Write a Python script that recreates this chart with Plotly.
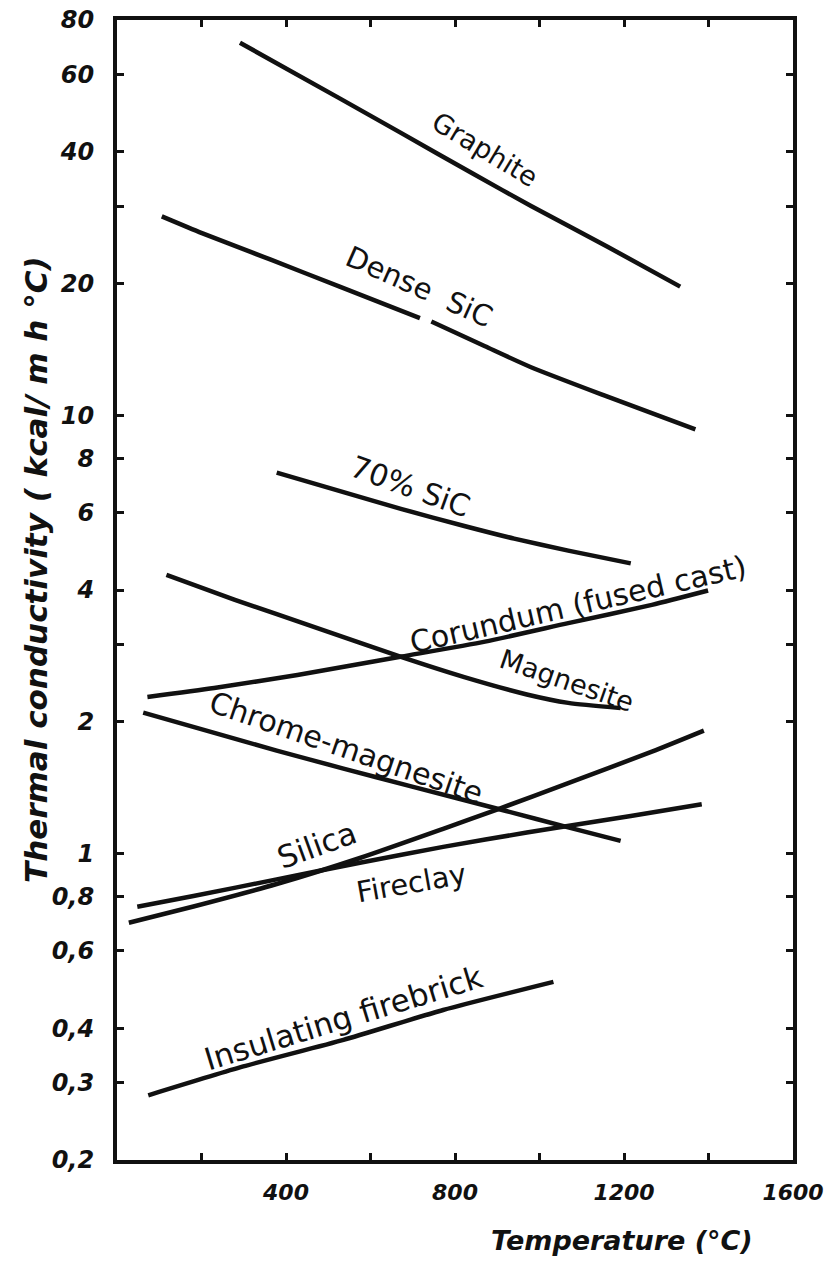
import math
import plotly.graph_objects as go

# ---- data (temperature in °C, conductivity in kcal/m h °C) ----
graphite_T = [291, 527, 672, 844, 980, 1161, 1333]
graphite_k = [71.0, 53.0, 44.2, 35.6, 30.1, 24.3, 19.7]

dense_sic_T = [106, 201, 364, 527, 717, None, 744, 871, 980, 1161, 1369]
dense_sic_k = [28.5, 26.1, 22.7, 19.7, 16.7, None, 16.4, 14.4, 12.9, 11.05, 9.3]

sic70_T = [378, 536, 674, 822, 940, 1068, 1216]
sic70_k = [7.41, 6.69, 6.12, 5.60, 5.24, 4.92, 4.60]

magnesite_T = [117, 279, 476, 674, 822, 970, 1068, 1192]
magnesite_k = [4.33, 3.80, 3.27, 2.81, 2.53, 2.31, 2.21, 2.15]

corundum_T = [72, 230, 427, 674, 871, 1068, 1266, 1399]
corundum_k = [2.28, 2.39, 2.56, 2.82, 3.05, 3.36, 3.70, 3.99]

chrome_T = [62, 220, 378, 536, 694, 921, 1068, 1192]
chrome_k = [2.10, 1.90, 1.72, 1.565, 1.427, 1.252, 1.149, 1.07]

silica_T = [28, 181, 378, 575, 772, 901, 1068, 1266, 1389]
silica_k = [0.696, 0.758, 0.853, 0.978, 1.14, 1.263, 1.45, 1.71, 1.91]

fireclay_T = [48, 181, 378, 575, 772, 970, 1216, 1384]
fireclay_k = [0.757, 0.801, 0.874, 0.954, 1.037, 1.118, 1.22, 1.297]

insul_T = [74, 299, 536, 772, 1033]
insul_k = [0.281, 0.327, 0.376, 0.440, 0.510]

x_tickvals = [200, 400, 600, 800, 1000, 1200, 1400, 1600]
x_ticktext = ["", "400", "", "800", "", "1200", "", "1600"]
y_tickvals = [0.2, 0.3, 0.4, 0.6, 0.8, 1, 2, 3, 4, 6, 8, 10, 20, 30, 40, 60, 80]
y_ticktext = ["0,2", "0,3", "0,4", "0,6", "0,8", "1", "2", "", "4", "6", "8",
              "10", "20", "", "40", "60", "80"]

series = [
    (graphite_T, graphite_k),
    (dense_sic_T, dense_sic_k),
    (sic70_T, sic70_k),
    (magnesite_T, magnesite_k),
    (corundum_T, corundum_k),
    (chrome_T, chrome_k),
    (silica_T, silica_k),
    (fireclay_T, fireclay_k),
    (insul_T, insul_k),
]

# curve labels: text, label position (T, k), rotation, font size
labels = [
    ("Graphite", 871, 40.4, 31, 27),
    ("Dense  SiC", 717, 19.7, 24, 29),
    ("70% SiC", 694, 6.88, 20, 30),
    ("Corundum (fused cast)", 1090, 3.70, -13, 30),
    ("Magnesite", 1065, 2.48, 19, 27),
    ("Chrome-magnesite", 542, 1.75, 19, 30),
    ("Silica", 473, 1.047, -20, 31),
    ("Fireclay", 696, 0.857, -10, 29),
    ("Insulating firebrick", 535, 0.4217, -17, 31),
]

FONT = "DejaVu Sans"
INK = "#111111"
W, H = 824, 1277
L, R, T_, B = 117, 31, 20, 117
PW, PH = W - L - R, H - T_ - B

fig = go.Figure()
for T, k in series:
    fig.add_trace(go.Scatter(
        x=T, y=k, mode="lines",
        line=dict(color=INK, width=4.5, shape="spline", smoothing=0.6),
        connectgaps=False, showlegend=False, hoverinfo="skip"))

for text, T, k, ang, fs in labels:
    fig.add_annotation(x=T, y=math.log10(k), xref="x", yref="y", text=text,
                       showarrow=False, textangle=ang,
                       xanchor="center", yanchor="middle",
                       font=dict(family=FONT, size=fs, color=INK))

fig.add_annotation(x=(622 - L) / PW, y=-(1240 - (H - B)) / PH,
                   xref="paper", yref="paper", text="Temperature (°C)",
                   showarrow=False, xanchor="center", yanchor="middle",
                   font=dict(family=FONT, size=27, color=INK,
                             weight="bold", style="italic"))
fig.add_annotation(x=-(L - 36) / PW, y=((H - B) - 570) / PH,
                   xref="paper", yref="paper",
                   text="Thermal conductivity ( kcal/ m h °C)",
                   showarrow=False, textangle=-90, xanchor="center", yanchor="middle",
                   font=dict(family=FONT, size=31, color=INK,
                             weight="bold", style="italic"))

fig.update_layout(
    width=W, height=H,
    margin=dict(l=L, r=R, t=T_, b=B),
    paper_bgcolor="white", plot_bgcolor="white",
    showlegend=False,
    xaxis=dict(range=[0, 1600], tickvals=x_tickvals, ticktext=x_ticktext,
               ticks="inside", ticklen=7, tickwidth=3, tickcolor=INK,
               showline=True, linewidth=4, linecolor=INK, mirror="allticks",
               showgrid=False, zeroline=False, ticklabelstandoff=10,
               ticklabeloverflow="allow", automargin=False,
               tickfont=dict(family=FONT, size=22, color=INK,
                             weight="bold", style="italic")),
    yaxis=dict(type="log", range=[math.log10(0.2), math.log10(80)],
               tickvals=y_tickvals, ticktext=y_ticktext,
               ticks="inside", ticklen=7, tickwidth=3, tickcolor=INK,
               showline=True, linewidth=4, linecolor=INK, mirror="allticks",
               showgrid=False, zeroline=False, ticklabelstandoff=14,
               ticklabeloverflow="allow", automargin=False,
               tickfont=dict(family=FONT, size=24, color=INK,
                             weight="bold", style="italic")),
)

fig.write_html("out.html",
               config={"displayModeBar": False},
               post_script="document.body.style.margin='0';"
                           "document.body.style.overflow='hidden';")
